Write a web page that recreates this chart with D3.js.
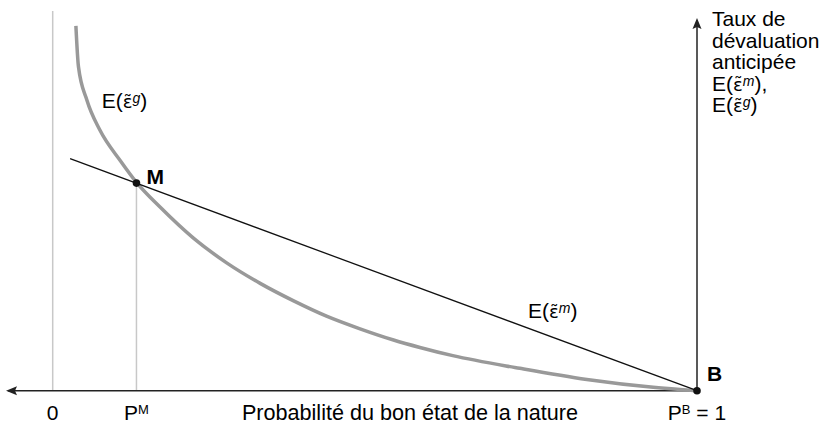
<!DOCTYPE html>
<html>
<head>
<meta charset="utf-8">
<script src="https://cdn.jsdelivr.net/npm/d3@7"></script>
<style>
  html, body { margin: 0; padding: 0; background: #fff; }
  svg { display: block; }
</style>
</head>
<body>
<div id="container"></div>
<script>
// svg size
const width = 821;
const height = 426;

// data: probability of the good state (0..1) and anticipated devaluation (arbitrary units)
const curveP = [0.036, 0.040, 0.053, 0.073, 0.105, 0.130, 0.167, 0.218, 0.270, 0.322,
                0.374, 0.425, 0.477, 0.529, 0.570, 0.621, 0.725, 0.829, 0.932, 1.000];
const curveE = [0.979, 0.869, 0.780, 0.700, 0.617, 0.559, 0.492, 0.410, 0.343, 0.288,
                0.241, 0.200, 0.166, 0.136, 0.116, 0.094, 0.060, 0.030, 0.009, 0.000];
const lineP = [0.027, 1.000];
const lineE = [0.6225, 0.000];
const pointM = {name: "M", p: 0.130, e: 0.557};
const pointB = {name: "B", p: 1.000, e: 0.000};
const yTitle = ["Taux de", "dévaluation", "anticipée"];

// font
const fontFamily = "'Liberation Sans', Arial, Helvetica, sans-serif";
const fontSize = 21;

const curveColor = "#999";
const guideColor = "#c8c8c8";
const axisColor = "#222";

const x = d3.scaleLinear().domain([0, 1]).range([52.7, 697]);
const y = d3.scaleLinear().domain([0, 1]).range([390.7, 18]);

const svg = d3.select("#container").append("svg")
    .attr("width", width)
    .attr("height", height)
    .attr("font-family", fontFamily)
    .attr("font-size", fontSize);

// vertical guide at p = 0
svg.append("line")
    .attr("x1", x(0)).attr("x2", x(0))
    .attr("y1", 11).attr("y2", y(0))
    .attr("stroke", guideColor)
    .attr("stroke-width", 1.5);

// guide from M down to the axis
svg.append("line")
    .attr("x1", x(pointM.p)).attr("x2", x(pointM.p))
    .attr("y1", y(pointM.e)).attr("y2", y(0))
    .attr("stroke", guideColor)
    .attr("stroke-width", 1.5);

// axes
svg.append("line")
    .attr("x1", 8).attr("x2", x(1))
    .attr("y1", y(0)).attr("y2", y(0))
    .attr("stroke", axisColor)
    .attr("stroke-width", 1.5);
svg.append("path")
    .attr("d", `M6,${y(0)} L17,${y(0) - 4.5} L15,${y(0)} L17,${y(0) + 4.5} Z`)
    .attr("fill", axisColor);

svg.append("line")
    .attr("x1", x(1)).attr("x2", x(1))
    .attr("y1", y(0)).attr("y2", 22)
    .attr("stroke", axisColor)
    .attr("stroke-width", 1.5);
svg.append("path")
    .attr("d", `M${x(1)},18 L${x(1) - 4.5},29 L${x(1)},27 L${x(1) + 4.5},29 Z`)
    .attr("fill", axisColor);

// curve E(eps g)
const curveData = curveP.map((p, i) => [p, curveE[i]]);
svg.append("path")
    .datum(curveData)
    .attr("fill", "none")
    .attr("stroke", curveColor)
    .attr("stroke-width", 3.5)
    .attr("d", d3.line().x(d => x(d[0])).y(d => y(d[1])).curve(d3.curveMonotoneX));

// line E(eps m)
const lineData = lineP.map((p, i) => [p, lineE[i]]);
svg.append("path")
    .datum(lineData)
    .attr("fill", "none")
    .attr("stroke", "#111")
    .attr("stroke-width", 1.3)
    .attr("d", d3.line().x(d => x(d[0])).y(d => y(d[1])));

// points
svg.selectAll("circle.pt")
    .data([pointM, pointB])
    .join("circle")
    .attr("class", "pt")
    .attr("cx", d => x(d.p))
    .attr("cy", d => y(d.e))
    .attr("r", 3.8)
    .attr("fill", "#111");

svg.append("text")
    .attr("x", x(pointM.p) + 10).attr("y", y(pointM.e) + 1)
    .attr("font-weight", "bold")
    .text(pointM.name);
svg.append("text")
    .attr("x", x(pointB.p) + 10).attr("y", y(pointB.e) - 10)
    .attr("font-weight", "bold")
    .text(pointB.name);

// E(eps~ sup) label, epsilon + combining tilde set in DejaVu Sans
function expLabel(sel, sup, tail) {
    sel.append("tspan").text("E(");
    sel.append("tspan")
        .attr("font-family", "'DejaVu Sans', sans-serif")
        .attr("font-size", 18)
        .text("ε\u0303");
    sel.append("tspan")
        .attr("font-style", "italic")
        .attr("font-size", 14)
        .attr("dy", -5)
        .text(sup);
    sel.append("tspan").attr("dy", 5).text(")" + (tail || ""));
}

svg.append("text").attr("x", 101.7).attr("y", 108).call(expLabel, "g");
svg.append("text").attr("x", 528).attr("y", 318).call(expLabel, "m");

// y title
const titleX = 712;
svg.selectAll("text.ytitle")
    .data(yTitle)
    .join("text")
    .attr("class", "ytitle")
    .attr("x", titleX)
    .attr("y", (d, i) => 26 + i * 21.5)
    .text(d => d);
svg.append("text").attr("x", titleX).attr("y", 26 + 3 * 21.5).call(expLabel, "m", ",");
svg.append("text").attr("x", titleX).attr("y", 26 + 4 * 21.5).call(expLabel, "g");

// bottom labels
const baseY = 420;
svg.append("text")
    .attr("x", x(0)).attr("y", baseY)
    .attr("text-anchor", "middle")
    .text("0");

const pm = svg.append("text")
    .attr("x", x(pointM.p)).attr("y", baseY)
    .attr("text-anchor", "middle");
pm.append("tspan").text("P");
pm.append("tspan").attr("font-size", 13).attr("dy", -6).text("M");

svg.append("text")
    .attr("x", 410).attr("y", baseY)
    .attr("text-anchor", "middle")
    .attr("font-size", 21.6)
    .text("Probabilité du bon état de la nature");

const pb = svg.append("text")
    .attr("x", x(1)).attr("y", baseY)
    .attr("text-anchor", "middle");
pb.append("tspan").text("P");
pb.append("tspan").attr("font-size", 13).attr("dy", -6).text("B");
pb.append("tspan").attr("dy", 6).text(" = 1");
</script>
</body>
</html>
